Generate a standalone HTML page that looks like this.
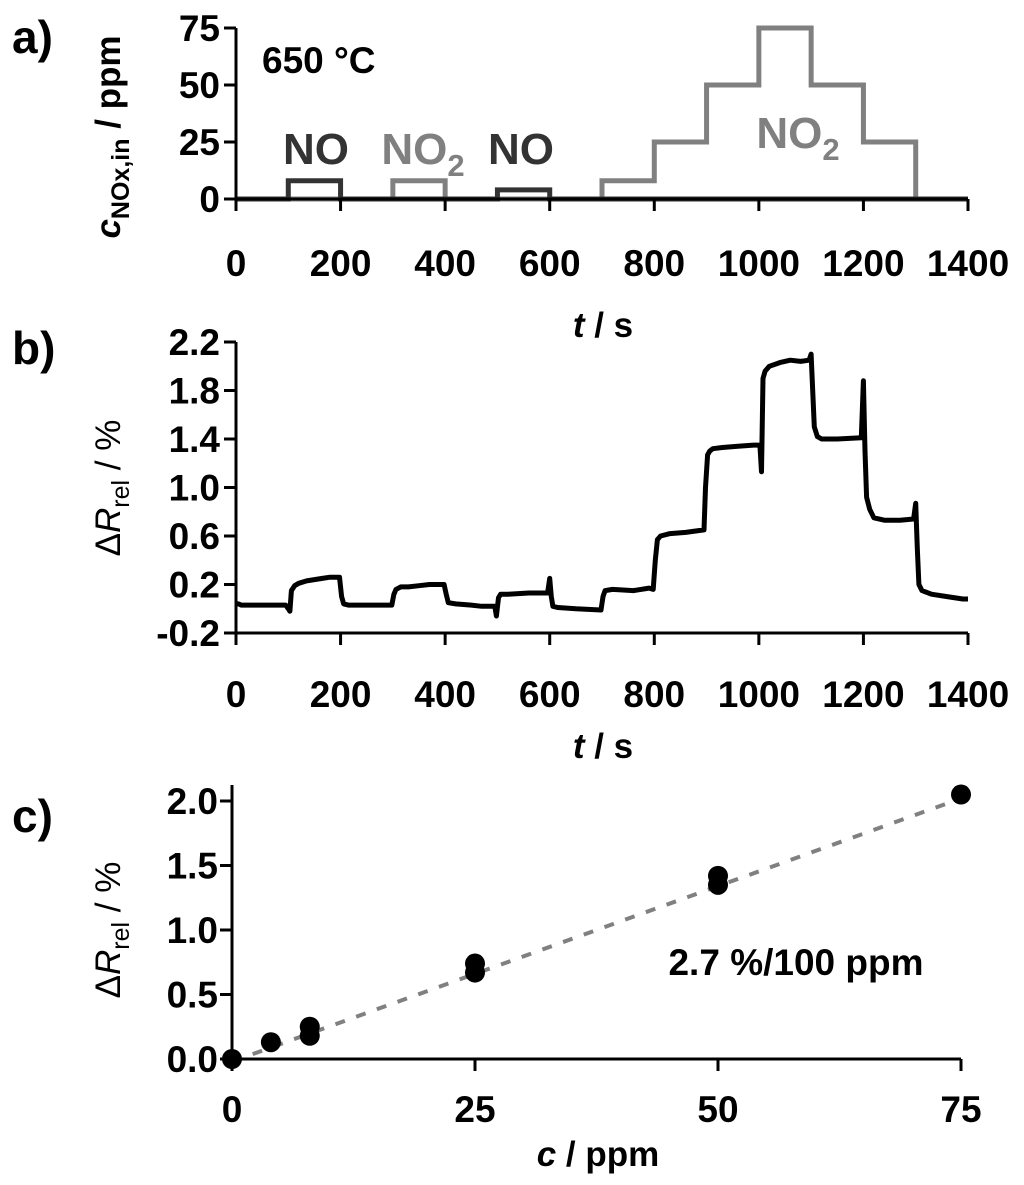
<!DOCTYPE html>
<html><head><meta charset="utf-8"><style>
html,body{margin:0;padding:0;background:#fff;}
svg{display:block;font-family:"Liberation Sans",Arial,sans-serif;font-weight:bold;}
</style></head><body>
<svg id="fig" width="1024" height="1185" viewBox="0 0 1024 1185">
<g id="pa"></g>
<g id="pb"></g>
<g id="pc"></g>
</svg>
<script>
// Panel a data
const aTimes=[0,100,200,300,400,500,600,700,800,900,1000,1100,1200,1300,1400];
const aNO=[0,8,0,0,0,4,0,0,0,0,0,0,0,0,0];
const aNO2=[0,0,0,8,0,0,0,8,25,50,75,50,25,0,0];
const aYTicks=[0,25,50,75];
const tTicks=[0,200,400,600,800,1000,1200,1400];
// Panel b data
const bT=[0,5,10,95,100,103,106,112,120,135,150,165,180,198,202,206,215,240,260,298,302,306,315,330,350,370,398,402,406,420,450,470,495,498,502,506,520,560,596,600,603,606,615,650,698,702,706,720,760,790,798,802,806,812,830,860,895,898,902,906,912,930,960,990,1002,1005,1008,1012,1020,1040,1060,1080,1096,1100,1103,1106,1112,1120,1150,1196,1200,1203,1206,1212,1220,1240,1270,1296,1300,1303,1306,1312,1330,1360,1390,1400];
const bV=[0.04,0.04,0.03,0.03,0.0,-0.02,0.15,0.19,0.21,0.23,0.24,0.25,0.26,0.26,0.1,0.04,0.03,0.03,0.03,0.03,0.12,0.16,0.18,0.18,0.19,0.2,0.2,0.12,0.05,0.04,0.03,0.02,0.02,-0.06,0.09,0.12,0.12,0.13,0.13,0.25,0.1,0.02,0.01,0.0,-0.01,0.1,0.15,0.16,0.15,0.17,0.16,0.4,0.57,0.6,0.62,0.63,0.65,1.0,1.27,1.3,1.32,1.33,1.34,1.35,1.35,1.13,1.9,1.96,2.0,2.03,2.05,2.04,2.05,2.1,1.8,1.5,1.42,1.4,1.4,1.41,1.88,1.3,0.92,0.82,0.75,0.73,0.73,0.74,0.87,0.5,0.2,0.15,0.12,0.1,0.08,0.08];
const bYTicks=[-0.2,0.2,0.6,1.0,1.4,1.8,2.2];
// Panel c data
const cX=[0,4,8,8,25,25,50,50,75];
const cY=[0.0,0.13,0.25,0.18,0.74,0.67,1.42,1.35,2.05];
const cXTicks=[0,25,50,75];
const cYTicks=[0.0,0.5,1.0,1.5,2.0];
const fitSlope=0.0272, fitIntercept=-0.02;

const NS="http://www.w3.org/2000/svg";
function mk(parent,tag,attrs,txt){const e=document.createElementNS(NS,tag);for(const k in attrs)e.setAttribute(k,attrs[k]);if(txt!==undefined)e.textContent=txt;parent.appendChild(e);return e;}

// ---- Panel a ----
const pa=document.getElementById('pa');
const ax=t=>236+(t/1400)*(968-236);
const ay=v=>199-(v/75)*(199-28);
function stepPath(ts,vs,sx,sy){let d='';for(let i=0;i<ts.length-1;i++){d+=(i?'L':'M')+sx(ts[i])+' '+sy(vs[i])+' L'+sx(ts[i+1])+' '+sy(vs[i]);}return d;}
let e;
e=mk(pa,'path',{d:stepPath(aTimes,aNO2,ax,ay),fill:'none',stroke:'#808080','stroke-width':5});


e=mk(pa,'path',{d:stepPath(aTimes,aNO,ax,ay),fill:'none',stroke:'#333','stroke-width':5});


function axes(g,x0,x1,y0,y1,xt,xs,yt,ys,yfmt,xfmt,xlabY,ylabX,yTop){
  let a=mk(g,'path',{d:`M${x0} ${yTop} L${x0} ${y0} L${x1} ${y0}`,fill:'none',stroke:'#000','stroke-width':3});
  
  
  xt.forEach(t=>{mk(g,'line',{x1:xs(t),x2:xs(t),y1:y0,y2:y0+12,stroke:'#000','stroke-width':3});
    const l=mk(g,'text',{x:xs(t),y:xlabY,'text-anchor':'middle','font-size':37},xfmt(t));
    
    });
  yt.forEach(t=>{mk(g,'line',{x1:x0-12,x2:x0,y1:ys(t),y2:ys(t),stroke:'#000','stroke-width':3});
    const l=mk(g,'text',{x:ylabX,y:ys(t)+13,'text-anchor':'end','font-size':37},yfmt(t));
    
    });
}
axes(pa,236,968,199,28,tTicks,ax,aYTicks,ay,v=>String(v),v=>String(v),276,220,28);
e=mk(pa,'text',{x:12,y:53,'font-size':46},'a)');


e=mk(pa,'text',{x:262,y:73,'font-size':37},'650 °C');


[['NO',316,164,'#333'],['NO2',423,164,'#808080'],['NO',521,164,'#333'],['NO2',798,148,'#808080']].forEach(([t,x,y,c])=>{
  const l=mk(pa,'text',{x:x,y:y,'text-anchor':'middle','font-size':44,fill:c});
  
  
  if(t==='NO2'){l.textContent='NO';mk(l,'tspan',{dy:12,'font-size':31},'2');}else l.textContent=t;
});
e=mk(pa,'text',{x:0,y:0,'text-anchor':'middle','font-size':35,transform:'translate(120,137) rotate(-90)'});


mk(e,'tspan',{'font-style':'italic'},'c');mk(e,'tspan',{dy:9,'font-size':25},'NOx,in');mk(e,'tspan',{dy:-9},' / ppm');
e=mk(pa,'text',{x:603,y:337,'text-anchor':'middle','font-size':35});


mk(e,'tspan',{'font-style':'italic'},'t');mk(e,'tspan',{},' / s');

// ---- Panel b ----
const pb=document.getElementById('pb');
const by=v=>633-((v+0.2)/2.4)*(633-342);
let d='';bT.forEach((t,i)=>{d+=(i?'L':'M')+ax(t).toFixed(1)+' '+by(bV[i]).toFixed(1)+' ';});
e=mk(pb,'path',{d:d,fill:'none',stroke:'#000','stroke-width':5,'stroke-linejoin':'round'});


axes(pb,236,968,633,342,tTicks,ax,bYTicks,by,v=>v.toFixed(1),v=>String(v),707,220,342);
e=mk(pb,'text',{x:12,y:364,'font-size':46},'b)');


e=mk(pb,'text',{x:0,y:0,'text-anchor':'middle','font-size':35,'font-weight':'normal',transform:'translate(120,488) rotate(-90)'});


mk(e,'tspan',{},'Δ');mk(e,'tspan',{'font-style':'italic'},'R');mk(e,'tspan',{dy:9,'font-size':25},'rel');mk(e,'tspan',{dy:-9},' / %');
e=mk(pb,'text',{x:603,y:758,'text-anchor':'middle','font-size':35});


mk(e,'tspan',{'font-style':'italic'},'t');mk(e,'tspan',{},' / s');

// ---- Panel c ----
const pc=document.getElementById('pc');
const cx=v=>232+(v/75)*(961-232);
const cy=v=>1059-(v/2.0)*(1059-801);
e=mk(pc,'line',{x1:cx(0),y1:cy(fitIntercept),x2:cx(75),y2:cy(fitIntercept+fitSlope*75),stroke:'#808080','stroke-width':4,'stroke-dasharray':'10 12'});


axes(pc,232,961,1059,785,cXTicks,cx,cYTicks,cy,v=>v.toFixed(1),v=>String(v),1122,218,785);
cX.forEach((v,i)=>{const p=mk(pc,'circle',{cx:cx(v),cy:cy(cY[i]),r:10,fill:'#000'});
  
  });
e=mk(pc,'text',{x:12,y:832,'font-size':46},'c)');


e=mk(pc,'text',{x:0,y:0,'text-anchor':'middle','font-size':35,'font-weight':'normal',transform:'translate(120,930) rotate(-90)'});


mk(e,'tspan',{},'Δ');mk(e,'tspan',{'font-style':'italic'},'R');mk(e,'tspan',{dy:9,'font-size':25},'rel');mk(e,'tspan',{dy:-9},' / %');
e=mk(pc,'text',{x:796,y:975,'text-anchor':'middle','font-size':37},'2.7 %/100 ppm');


e=mk(pc,'text',{x:598,y:1166,'text-anchor':'middle','font-size':35});


mk(e,'tspan',{'font-style':'italic'},'c');mk(e,'tspan',{},' / ppm');
</script>
</body></html>
